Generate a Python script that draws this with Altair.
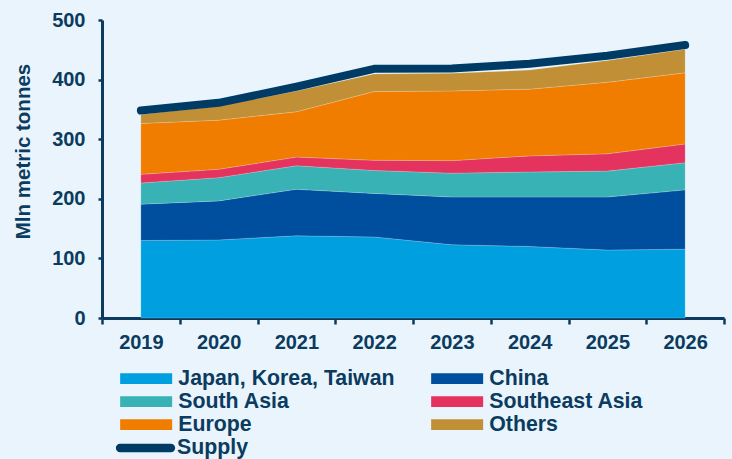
import altair as alt
import pandas as pd

# ---- data (Mln metric tonnes) ----
years = ["2019", "2020", "2021", "2022", "2023", "2024", "2025", "2026"]
series_names = ["Japan, Korea, Taiwan", "China", "South Asia", "Southeast Asia", "Europe", "Others"]
jkt = [130, 131, 138, 136, 123, 120, 114, 115.5]
china = [61, 65.5, 78, 73, 80, 83, 89, 99.5]
south_asia = [35.5, 39, 39.5, 38.5, 40, 42, 43.5, 45.5]
southeast_asia = [14.5, 14, 14.5, 17, 21, 27, 29, 31.5]
europe = [85.5, 82.5, 76, 115.5, 117, 112, 120, 119.5]
others = [15, 23.5, 35, 29.5, 29.5, 32, 36.5, 39.5]
supply = [348, 361, 388, 418, 418.5, 426.5, 440, 458]
y_ticks = [0, 100, 200, 300, 400, 500]

colors = ["#009FE0", "#004F9F", "#38B2B5", "#E4335F", "#F07D00", "#C18F35"]
navy = "#003B66"
text_navy = "#0B3B5F"
bg = "#E9F4FC"
font = "Liberation Sans"

values = [jkt, china, south_asia, southeast_asia, europe, others]
rows = []
for i, (name, vals) in enumerate(zip(series_names, values)):
    for y, v in zip(years, vals):
        rows.append({"year": y, "series": name, "value": v, "order": i})
df = pd.DataFrame(rows)
df_supply = pd.DataFrame({"year": years, "value": supply, "series": ["Supply"] * len(years)})

x_enc = alt.X(
    "year:O",
    bandPosition=0.5,
    scale=alt.Scale(type="band", paddingInner=0, paddingOuter=0, domain=years),
    axis=alt.Axis(
        title=None, labelAngle=0, tickBand="extent", labelFont=font, labelFontSize=20,
        labelFontWeight="bold", labelColor=text_navy, labelPadding=8,
        domainColor=text_navy, domainWidth=3, tickColor=text_navy, tickWidth=2.5, tickSize=6,
        grid=False,
    ),
)
y_axis = alt.Axis(
    title="Mln metric tonnes", values=y_ticks, labelFont=font, labelFontSize=20,
    labelFontWeight="bold", labelColor=text_navy, labelPadding=13,
    domainColor=text_navy, domainWidth=3, tickColor=text_navy, tickWidth=2.5, tickSize=4,
    grid=False, titleFont=font, titleFontSize=20.5, titleFontWeight="bold", titleColor=text_navy,
    titleAngle=-90, titleX=-73, titleY=131, titleBaseline="alphabetic", titleAlign="center",
)

label_kw = dict(labelFont=font, labelFontSize=21.3, labelFontWeight="bold",
                labelColor=text_navy, labelLimit=400, padding=0)

area = alt.Chart(df).mark_area(
    opacity=1, stroke="white", strokeWidth=0.5, strokeOpacity=0.35, interpolate="linear"
).encode(
    x=x_enc,
    y=alt.Y("value:Q", stack="zero", scale=alt.Scale(domain=[0, 500], nice=False), axis=y_axis),
    fill=alt.Fill(
        "series:N",
        scale=alt.Scale(domain=series_names, range=colors),
        legend=alt.Legend(
            title=None, orient="none", legendX=18, legendY=348, columns=2,
            direction="horizontal", columnPadding=36, rowPadding=1.0,
            symbolType="M-1,-0.51H3.952V0.51H-1Z", symbolSize=441,
            symbolStrokeWidth=0, symbolOpacity=1, labelOffset=37, **label_kw,
        ),
    ),
    order=alt.Order("order:Q", sort="ascending"),
)

line = alt.Chart(df_supply).mark_line(
    strokeWidth=8, strokeCap="round", strokeJoin="round", interpolate="linear"
).encode(
    x=x_enc,
    y=alt.Y("value:Q"),
    stroke=alt.Stroke(
        "series:N",
        scale=alt.Scale(domain=["Supply"], range=[navy]),
        legend=alt.Legend(
            title=None, orient="none", legendX=6, legendY=416,
            symbolType="M0,-0.05H6.375A0.05,0.05 0 0 1 6.375,0.05H0A0.05,0.05 0 0 1 0,-0.05Z",
            symbolSize=256, symbolStrokeWidth=7.5, symbolOpacity=1, labelOffset=45,
            **label_kw,
        ),
    ),
)

chart = alt.layer(area, line).properties(
    width=622, height=298,
    autosize=alt.AutoSizeParams(type="none"),
    padding={"left": 102, "top": 20, "right": 8, "bottom": 141},
).configure(background=bg).configure_view(stroke=None)

page_css = (
    "html,body{margin:0;padding:0;background:" + bg + ";overflow:hidden;}"
    ".vega-embed{position:relative;display:inline-block;box-sizing:border-box;}"
    ".vega-embed svg{display:block;}"
)

chart.save("out.html", embed_options={"renderer": "svg", "actions": False, "defaultStyle": page_css})
